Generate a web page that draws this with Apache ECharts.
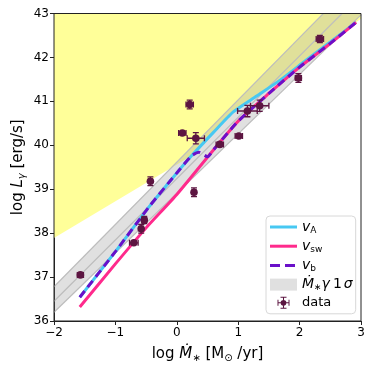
<!DOCTYPE html>
<html>
<head>
<meta charset="utf-8">
<script src="https://cdn.jsdelivr.net/npm/echarts@6/dist/echarts.min.js"></script>
<style>
  html, body { margin: 0; padding: 0; background: #fff; }
  #chart { width: 374px; height: 374px; }
</style>
</head>
<body>
<div id="chart"></div>
<script>
// x ticks, y ticks
const xTicks = [-2, -1, 0, 1, 2, 3];
const yTicks = [36, 37, 38, 39, 40, 41, 42, 43];

// model curves [log Mdot, log L]
const vA = [[-1.58, 36.54], [-1.0, 37.58], [-0.44, 38.62], [0.0, 39.37], [0.24, 39.76], [0.6, 40.3], [0.92, 40.76],
  [1.3, 41.12], [1.7, 41.5], [2.1, 41.93], [2.5, 42.35], [2.92, 42.8]];
const vSw = [[-1.58, 36.32], [-1.0, 37.3], [-0.5, 38.12], [0.0, 38.88], [0.6, 39.9], [1.0, 40.55], [1.5, 41.18],
  [2.0, 41.78], [2.5, 42.32], [2.92, 42.8]];
const vB = [[-1.58, 36.54], [-1.0, 37.58], [-0.44, 38.62], [0.0, 39.37], [0.24, 39.76], [0.36, 39.84], [0.5, 39.74],
  [0.6, 39.9], [1.0, 40.55], [1.5, 41.18], [2.0, 41.78], [2.5, 42.32], [2.92, 42.8]];

// Mdot gamma relation, 1 sigma band
const bandUpper = [[-2, 36.78], [3, 43.87]];
const bandMid = [[-2, 36.45], [3, 43.43]];
const bandLower = [[-2, 36.2], [3, 42.97]];

// excluded region (yellow), lower boundary
const yellowEdge = [[-2, 37.89], [0.24, 39.76], [0.6, 40.3], [0.92, 40.76], [1.3, 41.12], [1.7, 41.5],
  [2.1, 41.93], [2.5, 42.35], [2.92, 42.8], [3, 42.88]];

// data: [x, y, xerr, yerr]
const obs = [
  [-1.57, 37.05, 0.05, 0.03], [-0.70, 37.78, 0.07, 0.03], [-0.58, 38.10, 0.03, 0.1],
  [-0.53, 38.30, 0.04, 0.08], [-0.43, 39.18, 0.03, 0.1], [0.09, 40.28, 0.06, 0.03],
  [0.21, 40.93, 0.06, 0.1], [0.31, 40.16, 0.14, 0.13], [0.28, 38.93, 0.03, 0.1],
  [0.70, 40.02, 0.06, 0.03], [1.01, 40.21, 0.06, 0.03], [1.15, 40.78, 0.16, 0.13],
  [1.35, 40.90, 0.15, 0.13], [1.98, 41.53, 0.05, 0.1], [2.33, 42.42, 0.06, 0.08]
];

const FONT = 'DejaVu Sans';
const dotColor = '#5c1541';

const chart = echarts.init(document.getElementById('chart'));

function polygonItem(points, style) {
  return function (params, api) {
    if (params.dataIndex !== 0) return null;
    return {
      type: 'polygon',
      shape: { points: points.map(p => api.coord(p)) },
      style: style
    };
  };
}

const bandPoly = bandUpper.concat(bandLower.slice().reverse());
const yellowPoly = [[-2, 43], [3, 43]].concat(yellowEdge.slice().reverse());

function errItem(params, api) {
  const x = api.value(0), y = api.value(1), xe = api.value(2), ye = api.value(3);
  const c = api.coord([x, y]);
  const l = api.coord([x - xe, y]), r = api.coord([x + xe, y]);
  const t = api.coord([x, y + ye]), b = api.coord([x, y - ye]);
  const cap = 3;
  const ls = { stroke: dotColor, lineWidth: 1.3 };
  return {
    type: 'group',
    children: [
      { type: 'line', shape: { x1: l[0], y1: c[1], x2: r[0], y2: c[1] }, style: ls },
      { type: 'line', shape: { x1: c[0], y1: t[1], x2: c[0], y2: b[1] }, style: ls },
      { type: 'line', shape: { x1: l[0], y1: c[1] - cap, x2: l[0], y2: c[1] + cap }, style: ls },
      { type: 'line', shape: { x1: r[0], y1: c[1] - cap, x2: r[0], y2: c[1] + cap }, style: ls },
      { type: 'line', shape: { x1: c[0] - cap, y1: t[1], x2: c[0] + cap, y2: t[1] }, style: ls },
      { type: 'line', shape: { x1: c[0] - cap, y1: b[1], x2: c[0] + cap, y2: b[1] }, style: ls },
      { type: 'circle', shape: { cx: c[0], cy: c[1], r: 3.8 }, style: { fill: dotColor } }
    ]
  };
}

const errIcon = 'path://M2 9.3H18V10.7H2Z M9.3 2H10.7V18H9.3Z M2 6H3.3V14H2Z M16.7 6H18V14H16.7Z ' +
  'M6 2H14V3.3H6Z M6 16.7H14V18H6Z M10 6.2A3.8 3.8 0 1 1 9.99 6.2Z';
const lineIcon = 'path://M0 0H27V3H0Z';
const dashIcon = 'path://M0 0H10V3H0Z M15 0H25V3H15Z M27 0H27V3H27Z';

const legendText = {
  'vA': '{v|v}{s|A}',
  'vsw': '{v|v}{s|sw}',
  'vb': '{v|v}{s|b}',
  'band': '{v|Ṁ}{s|∗}{v|γ}{n|1}{v|σ}',
  'data': '{d|data}'
};

const option = {
  animation: false,
  grid: { left: 54, right: 13, top: 13.5, bottom: 53, show: true, borderColor: '#222', borderWidth: 1, z: 10 },
  xAxis: {
    type: 'value', min: -2, max: 3, interval: 1,
    name: '{n|log }{i|Ṁ}{s|∗}{n| [M}{s|⊙}{n| /yr]}',
    nameLocation: 'middle', nameGap: 25,
    nameTextStyle: {
      rich: {
        n: { fontFamily: FONT, fontSize: 15, color: '#000' },
        i: { fontFamily: FONT, fontSize: 15, fontStyle: 'italic', color: '#000' },
        s: { fontFamily: FONT, fontSize: 10, color: '#000', padding: [7, 0, 0, 0] }
      }
    },
    splitLine: { show: false },
    axisLine: { onZero: false, lineStyle: { color: '#222', width: 1 } },
    axisTick: { length: 4, lineStyle: { color: '#222' } },
    axisLabel: {
      fontFamily: FONT, fontSize: 12, color: '#000', margin: 6,
      formatter: v => (v < 0 ? '\u2212' + Math.abs(v) : String(v))
    }
  },
  yAxis: {
    type: 'value', min: 36, max: 43, interval: 1,
    name: '{n|log }{i|L}{s|γ}{n| [erg/s]}',
    nameLocation: 'middle', nameGap: 27, nameMoveOverlap: false,
    nameTextStyle: {
      rich: {
        n: { fontFamily: FONT, fontSize: 15, color: '#000' },
        i: { fontFamily: FONT, fontSize: 15, fontStyle: 'italic', color: '#000' },
        s: { fontFamily: FONT, fontSize: 10, fontStyle: 'italic', color: '#000', padding: [7, 0, 0, 0] }
      }
    },
    splitLine: { show: false },
    axisLine: { onZero: false, lineStyle: { color: '#222', width: 1 } },
    axisTick: { length: 4, lineStyle: { color: '#222' } },
    axisLabel: { fontFamily: FONT, fontSize: 12, color: '#000', margin: 5 }
  },
  legend: {
    orient: 'vertical', left: 266, top: 216,
    padding: [3, 3, 4, 4],
    itemWidth: 27, itemHeight: 12, itemGap: 3.2,
    backgroundColor: 'rgba(255,255,255,0.8)',
    borderColor: '#d8d8d8', borderWidth: 1, borderRadius: 4,
    data: [
      { name: 'vA', icon: lineIcon, itemStyle: { color: '#47c8f2' } },
      { name: 'vsw', icon: lineIcon, itemStyle: { color: '#ff2a8c' } },
      { name: 'vb', icon: dashIcon, itemStyle: { color: '#6a10c9' } },
      { name: 'band', icon: 'rect', itemStyle: { color: '#e0e0e0' } },
      { name: 'data', icon: errIcon, itemStyle: { color: dotColor } }
    ],
    formatter: n => legendText[n],
    textStyle: {
      fontFamily: FONT, fontSize: 12, color: '#000', lineHeight: 14,
      rich: {
        v: { fontFamily: FONT, fontSize: 14, fontStyle: 'italic', color: '#000', lineHeight: 14 },
        s: { fontFamily: FONT, fontSize: 9, color: '#000', lineHeight: 14, padding: [7, 0, 0, 0] },
        n: { fontFamily: FONT, fontSize: 14, color: '#000', lineHeight: 14, padding: [0, 2, 0, 3] },
        d: { fontFamily: FONT, fontSize: 13, color: '#000', lineHeight: 14 }
      }
    }
  },
  series: [
    {
      type: 'custom', name: 'yellow', clip: true, silent: true, z: 1,
      data: yellowPoly,
      renderItem: polygonItem(yellowPoly, { fill: '#ffff99' })
    },
    {
      type: 'custom', name: 'band', clip: true, silent: true, z: 2,
      itemStyle: { color: '#e0e0e0' },
      data: bandPoly,
      renderItem: polygonItem(bandPoly, { fill: 'rgba(160,160,160,0.32)' })
    },
    { type: 'line', name: 'bu', data: bandUpper, symbol: 'none', z: 3, lineStyle: { color: '#bdbdbd', width: 1.2 } },
    { type: 'line', name: 'bm', data: bandMid, symbol: 'none', z: 3, lineStyle: { color: '#bdbdbd', width: 1.2 } },
    { type: 'line', name: 'bl', data: bandLower, symbol: 'none', z: 3, lineStyle: { color: '#bdbdbd', width: 1.2 } },
    { type: 'line', name: 'vA', data: vA, symbol: 'none', smooth: 0.2, z: 4, lineStyle: { color: '#47c8f2', width: 3 }, itemStyle: { color: '#47c8f2' } },
    { type: 'line', name: 'vsw', data: vSw, symbol: 'none', smooth: 0.2, z: 5, lineStyle: { color: '#ff2a8c', width: 3 }, itemStyle: { color: '#ff2a8c' } },
    { type: 'line', name: 'vb', data: vB, symbol: 'none', smooth: 0.2, z: 6, lineStyle: { color: '#6a10c9', width: 3, type: [8, 5] }, itemStyle: { color: '#6a10c9' } },
    {
      type: 'custom', name: 'data', z: 7, clip: true,
      itemStyle: { color: dotColor },
      encode: { x: 0, y: 1 },
      data: obs,
      renderItem: errItem
    }
  ]
};

chart.setOption(option);
</script>
</body>
</html>
